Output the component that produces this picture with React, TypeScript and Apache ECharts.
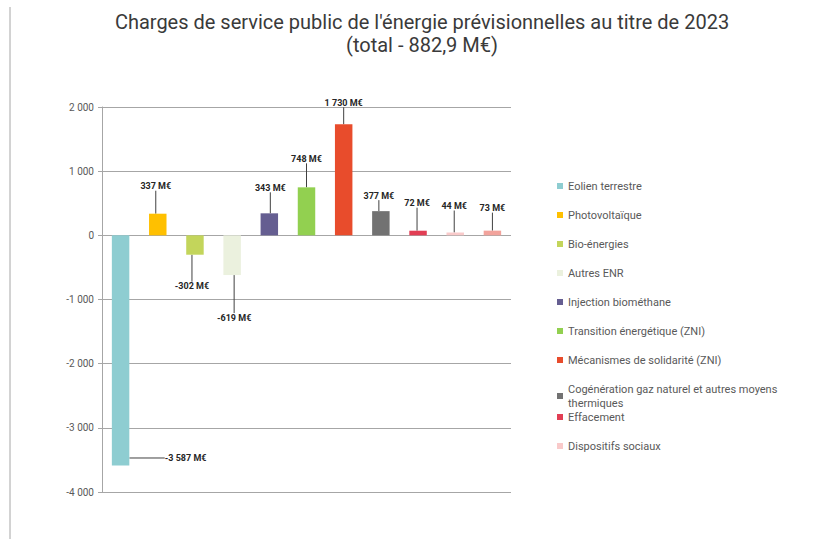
import React, { useEffect, useRef } from "react";
import * as echarts from "echarts";

const categories = [
  "Eolien terrestre",
  "Photovoltaïque",
  "Bio-énergies",
  "Autres ENR",
  "Injection biométhane",
  "Transition énergétique (ZNI)",
  "Mécanismes de solidarité (ZNI)",
  "Cogénération gaz naturel et autres moyens thermiques",
  "Effacement",
  "Dispositifs sociaux",
  "Autres charges",
];
const values = [-3587, 337, -302, -619, 343, 748, 1730, 377, 72, 44, 73];
const colors = [
  "#8ECDD1",
  "#FFC000",
  "#C3D55B",
  "#EBF1DE",
  "#655E91",
  "#92D050",
  "#E84C2C",
  "#727272",
  "#E23E54",
  "#F9CACA",
  "#F2A39C",
];
const yTicks = { min: -4000, max: 2000, interval: 1000 };
const legendMain = categories.slice(0, 8);
const legendTail = categories.slice(8, 10);

// label offsets (layout, not data)
const labelOffsets = [
  [65, -16],
  [-2, -19],
  [-3, 23],
  [2, 34],
  [1, -17],
  [0, -20],
  [0, -13],
  [-2, -7],
  [-1, -19],
  [-1, -18],
  [0, -14],
];

const fmt = (v: number) => {
  const s = Math.abs(v)
    .toString()
    .replace(/\B(?=(\d{3})+(?!\d))/g, " ");
  return (v < 0 ? "-" : "") + s;
};

const FONT = "Roboto, 'Open Sans', sans-serif";

export default function App() {
  const ref = useRef<HTMLDivElement>(null);
  useEffect(() => {
    document.body.style.margin = "0";
    const chart = echarts.init(ref.current!, null, { renderer: "svg" });
    const series = categories.map((name, i) => ({
      name,
      type: "bar",
      stack: "total",
      barWidth: "47%",
      data: values.map((v, j) => (j === i ? v : null)),
      itemStyle: { color: colors[i] },
      label: {
        show: true,
        position: values[i] >= 0 ? "top" : "bottom",
        distance: 4,
        formatter: () => fmt(values[i]) + " M€",
        fontSize: 9,
        fontWeight: "bold",
        fontFamily: FONT,
        color: "#262626",
      },
      labelLine: { show: true, lineStyle: { color: "#404040", width: 1 } },
      labelLayout: { dx: labelOffsets[i][0], dy: labelOffsets[i][1] },
    }));
    const legendCommon = {
      orient: "vertical",
      left: 552,
      itemWidth: 6,
      itemHeight: 6,
      itemGap: 15,
      icon: "rect",
      selectedMode: false,
      textStyle: {
        fontSize: 11,
        lineHeight: 14,
        color: "#595959",
        fontFamily: FONT,
      },
      formatter: (n: string) =>
        n === categories[7]
          ? "Cogénération gaz naturel et autres moyens\nthermiques"
          : n,
    };
    chart.setOption({
      animation: false,
      backgroundColor: "#ffffff",
      grid: { left: 102, right: 308, top: 107, bottom: 47 },
      xAxis: {
        type: "category",
        data: categories,
        axisLine: { show: false },
        axisTick: { show: false },
        axisLabel: { show: false },
      },
      yAxis: {
        type: "value",
        min: yTicks.min,
        max: yTicks.max,
        interval: yTicks.interval,
        axisLine: { show: true, lineStyle: { color: "#A6A6A6" } },
        axisTick: { show: true, length: 4, lineStyle: { color: "#A6A6A6" } },
        splitLine: { lineStyle: { color: "#A6A6A6" } },
        axisLabel: {
          formatter: (v: number) => fmt(v),
          fontSize: 10,
          color: "#595959",
          fontFamily: FONT,
          margin: 8,
        },
      },
      legend: [
        { ...legendCommon, top: 174, data: legendMain },
        { ...legendCommon, top: 405, data: legendTail },
      ],
      graphic: [
        {
          type: "line",
          shape: { x1: 10, y1: 7, x2: 10, y2: 539 },
          style: { stroke: "#A6A6A6", lineWidth: 1 },
        },
        {
          type: "text",
          x: 422,
          y: 10,
          style: {
            text: "Charges de service public de l'énergie prévisionnelles au titre de 2023\n(total - 882,9 M€)",
            textAlign: "center",
            textVerticalAlign: "top",
            fontSize: 20,
            fontWeight: "normal",
            lineHeight: 23,
            fontFamily: FONT,
            fill: "#3A3A3A",
          },
        },
      ],
      series,
    });
    return () => chart.dispose();
  }, []);
  return <div ref={ref} style={{ width: 819, height: 539 }} />;
}
